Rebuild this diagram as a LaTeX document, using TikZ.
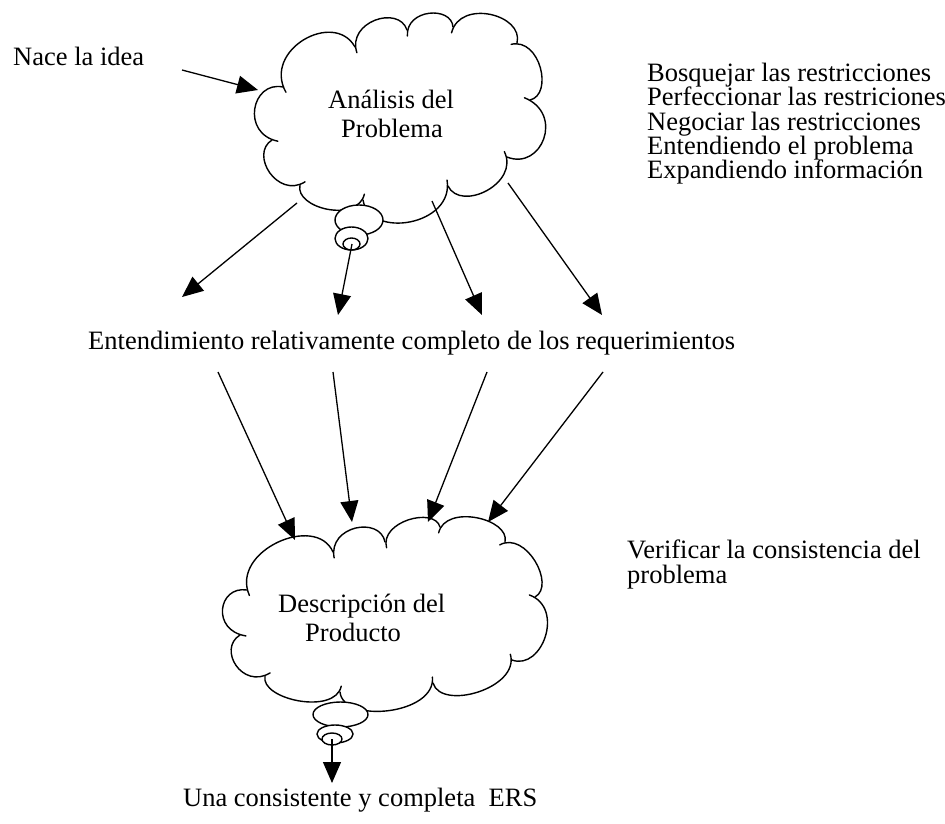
\documentclass[tikz,border=0pt]{standalone}
\usepackage{fontspec}
\setmainfont{Liberation Serif}
\usetikzlibrary{calc,arrows.meta}

\tikzset{
  cloudline/.style={line width=1.4pt, line cap=round},
  bubble/.style={line width=1.4pt, fill=white},
  flow/.style={line width=1.3pt, -{Triangle[length=21pt,width=18pt]}},
  lbl/.style={inner sep=0pt, font=\fontsize{26.5}{24.2}\selectfont},
}

% one puff of a cloud outline, from notch #1 to notch #2, bulging outwards by about #3;
% its start runs on a little way into the cloud
\newcommand\puff[3]{%
  \draw[cloudline, shorten <=-6pt] (#1) .. controls ($(#1)!{1.333*#3pt}!90:(#2)$) and ($(#2)!{1.333*#3pt}!-90:(#1)$) .. (#2);}

\begin{document}
\begin{tikzpicture}[x=1pt,y=-1pt]
  \useasboundingbox (0,0) rectangle (945,824);
  \fill[white] (0,0) rectangle (945,824);

  % ---- upper cloud: Analisis del Problema
  \coordinate (uA) at (283,87);
  \coordinate (uB) at (355,47);
  \coordinate (uC) at (407,30);
  \coordinate (uD) at (453,27);
  \coordinate (uE) at (517,43);
  \coordinate (uF) at (530,100);
  \coordinate (uG) at (507,157);
  \coordinate (uH) at (448,186);
  \coordinate (uI) at (363,200);
  \coordinate (uJ) at (300,185);
  \coordinate (uK) at (272,140);
  \puff{uA}{uB}{32}
  \puff{uB}{uC}{20}
  \puff{uC}{uD}{16}
  \puff{uD}{uE}{22}
  \puff{uE}{uF}{18}
  \puff{uF}{uG}{28}
  \puff{uG}{uH}{22}
  \puff{uH}{uI}{30}
  \puff{uI}{uJ}{18}
  \puff{uJ}{uK}{20}
  \puff{uK}{uA}{24}

  % thought bubbles below the upper cloud
  \draw[bubble] (359,220) ellipse [x radius=24, y radius=15];
  \draw[bubble] (351.5,238.5) ellipse [x radius=16.5, y radius=11.5];
  \draw[bubble] (351.5,244) ellipse [x radius=8.5, y radius=6];

  % ---- lower cloud: Descripcion del Producto
  \coordinate (la) at (247,590);
  \coordinate (lb) at (333,552);
  \coordinate (lc) at (385,542);
  \coordinate (ld) at (440,527);
  \coordinate (le) at (505,542);
  \coordinate (lf) at (535,597);
  \coordinate (lg) at (512,660);
  \coordinate (lh) at (433,683);
  \coordinate (li) at (340,692);
  \coordinate (lj) at (265,676);
  \coordinate (lk) at (240,635);
  \puff{la}{lb}{32}
  \puff{lb}{lc}{20}
  \puff{lc}{ld}{16}
  \puff{ld}{le}{18}
  \puff{le}{lf}{18}
  \puff{lf}{lg}{24}
  \puff{lg}{lh}{22}
  \puff{lh}{li}{24}
  \puff{li}{lj}{18}
  \puff{lj}{lk}{20}
  \puff{lk}{la}{22}

  % thought bubbles below the lower cloud
  \draw[bubble] (340.5,714.5) ellipse [x radius=27.5, y radius=12.5];
  \draw[bubble] (335,734) ellipse [x radius=18, y radius=9];
  \draw[bubble] (332,739) ellipse [x radius=10, y radius=6];

  % ---- texts
  \node[lbl, anchor=base west] (nace) at (13,66) {Nace la idea};
  \node[lbl, anchor=base west] (ana1) at (328,109) {Análisis del};
  \node[lbl, anchor=base west] (ana2) at (341,138) {Problema};

  \node[lbl, anchor=base west] (r1) at (647,81.7)  {Bosquejar las restricciones};
  \node[lbl, anchor=base west] (r2) at (647,105.9) {Perfeccionar las restriciones};
  \node[lbl, anchor=base west] (r3) at (647,130.1) {Negociar las restricciones};
  \node[lbl, anchor=base west] (r4) at (647,154.3) {Entendiendo el problema};
  \node[lbl, anchor=base west] (r5) at (647,178.5) {Expandiendo información};

  \node[lbl, anchor=base west] (mid) at (88,349) {Entendimiento relativamente completo de los requerimientos};

  \node[lbl, anchor=base west] (des1) at (278,612) {Descripción del};
  \node[lbl, anchor=base west] (des2) at (305,641) {Producto};

  \node[lbl, anchor=base west] (ver1) at (627,558) {Verificar la consistencia del};
  \node[lbl, anchor=base west] (ver2) at (627,583) {problema};

  \node[lbl, anchor=base west] (ers) at (183,806) {Una consistente y completa\ \ ERS};

  % ---- arrow end points
  \coordinate (n0) at (182,70);   \coordinate (n1) at (258,90);
  \coordinate (t1s) at (297,203); \coordinate (t1e) at (182,297);
  \coordinate (t2s) at (352,244); \coordinate (t2e) at (338,315);
  \coordinate (t3s) at (432,201); \coordinate (t3e) at (482,315);
  \coordinate (t4s) at (508,183); \coordinate (t4e) at (602,315);
  \coordinate (d1s) at (218,372); \coordinate (d1e) at (295,540);
  \coordinate (d2s) at (333,372); \coordinate (d2e) at (352,522);
  \coordinate (d3s) at (487,372); \coordinate (d3e) at (428,522);
  \coordinate (d4s) at (603,372); \coordinate (d4e) at (488,522);
  \coordinate (e0) at (332,739);  \coordinate (e1) at (332,783);

  % ---- arrows
  \draw[flow] (n0) -- (n1);
  \draw[flow] (t1s) -- (t1e);
  \draw[flow] (t2s) -- (t2e);
  \draw[flow] (t3s) -- (t3e);
  \draw[flow] (t4s) -- (t4e);
  \draw[flow] (d1s) -- (d1e);
  \draw[flow] (d2s) -- (d2e);
  \draw[flow] (d3s) -- (d3e);
  \draw[flow] (d4s) -- (d4e);
  \draw[flow] (e0) -- (e1);
\end{tikzpicture}
\end{document}
